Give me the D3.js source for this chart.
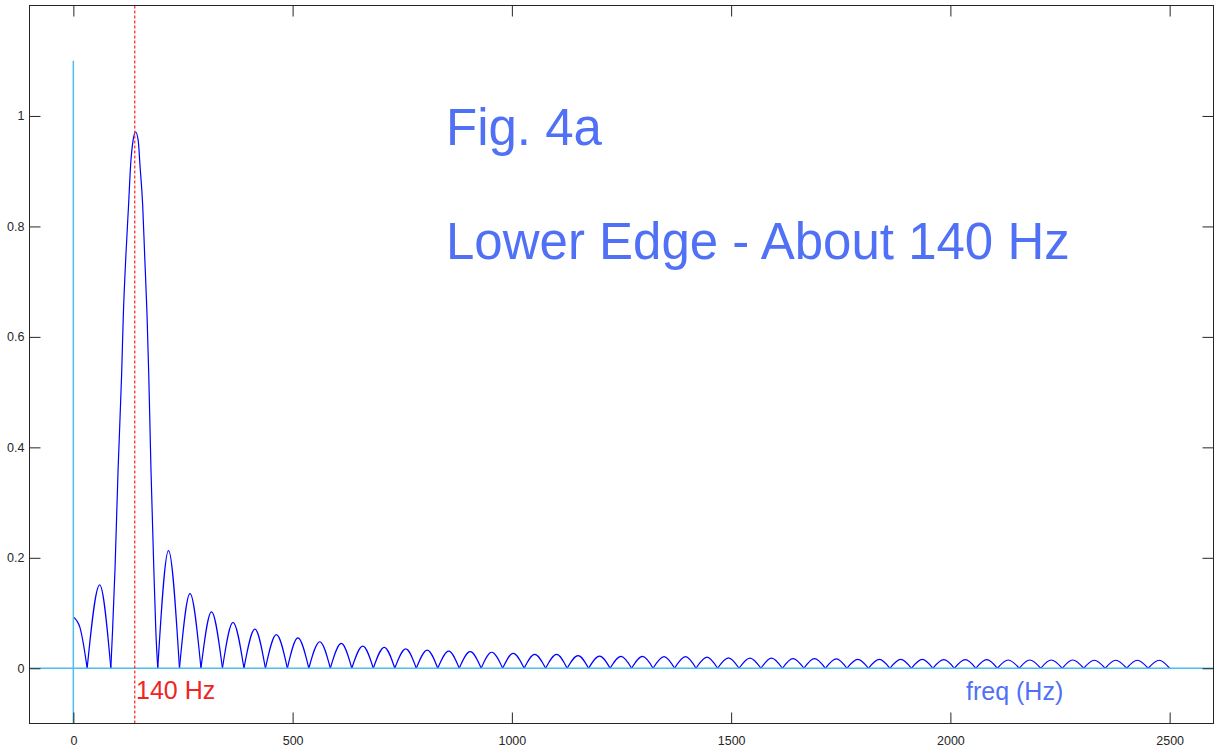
<!DOCTYPE html>
<html>
<head>
<meta charset="utf-8">
<script src="https://cdn.jsdelivr.net/npm/d3@7"></script>
<style>
body { margin: 0; background: #fff; }
svg text { font-family: "Liberation Sans", Arial, sans-serif; }
</style>
</head>
<body>
<div id="chart"></div>
<script>
// leading lobe, first small lobe and the main lobe (freq in Hz, magnitude)
var lowHz  = [0, 7, 15, 22.5, 31.5, 60, 85.5, 89.5, 95, 102, 110, 114, 120, 126, 130.5, 136, 142,
              148, 152, 158, 162.5, 168, 172, 177, 183.5, 188, 192.5];
var lowMag = [0.093, 0.087, 0.074, 0.046, 0, 0.151, 0, 0.07, 0.18, 0.36, 0.53, 0.64, 0.75, 0.84, 0.91, 0.955, 0.971,
              0.955, 0.91, 0.84, 0.75, 0.64, 0.53, 0.36, 0.18, 0.07, 0];

// side lobes above the main lobe: peak freq, peak height, freq where each lobe ends
var sidePeakHz = [217, 266, 315, 364, 414, 463, 512, 562, 611, 660,
                  709, 758, 807, 856, 905, 954, 1003, 1052, 1102, 1151,
                  1200, 1249, 1298, 1347, 1396, 1445, 1494, 1543, 1592, 1641,
                  1690, 1740, 1789, 1838, 1887, 1936, 1985, 2034, 2083, 2132,
                  2181, 2230, 2279, 2328, 2377, 2426, 2476];
var sidePeakMag = [0.213, 0.135, 0.102, 0.083, 0.071, 0.061, 0.055, 0.048, 0.045, 0.040,
                   0.038, 0.035, 0.033, 0.031, 0.030, 0.029, 0.027, 0.025, 0.025, 0.023,
                   0.022, 0.0215, 0.0215, 0.021, 0.021, 0.020, 0.019, 0.0185, 0.0185, 0.0175,
                   0.0175, 0.017, 0.016, 0.016, 0.016, 0.016, 0.0155, 0.0155, 0.0155, 0.015,
                   0.015, 0.015, 0.015, 0.0145, 0.0145, 0.0145, 0.0145];
var sideEndHz = [242, 291, 340, 389, 438, 488, 537, 586, 635, 684,
                 733, 782, 831, 880, 930, 979, 1028, 1077, 1126, 1175,
                 1224, 1273, 1322, 1371, 1420, 1469, 1518, 1568, 1617, 1666,
                 1715, 1764, 1813, 1862, 1911, 1960, 2009, 2058, 2107, 2157,
                 2206, 2255, 2304, 2353, 2402, 2451, 2500];

var xTicks = [0, 500, 1000, 1500, 2000, 2500];
var yTicks = [0, 0.2, 0.4, 0.6, 0.8, 1];
var markerHz = 140;

var W = 1215, H = 749;
var box = {left: 29.5, right: 1213.5, top: 5.5, bottom: 723.5};

var svg = d3.select("#chart").append("svg")
  .attr("width", W)
  .attr("height", H);

var x = d3.scaleLinear().domain([-100, 2600]).range([box.left, box.right]);
var y = d3.scaleLinear().domain([-0.1, 1.2]).range([box.bottom, box.top]);

// build the point list and cut it into lobes at the zeros
var pts = lowHz.map(function(f, i) { return {f: f, m: lowMag[i]}; });
sidePeakHz.forEach(function(f, i) {
  pts.push({f: f, m: sidePeakMag[i]});
  pts.push({f: sideEndHz[i], m: 0});
});

var lobes = [], cur = [];
pts.forEach(function(p) {
  cur.push(p);
  if (p.m === 0 && cur.length > 1) {
    lobes.push(cur);
    cur = [p];
  }
});
if (cur.length > 1) lobes.push(cur);

var line = d3.line()
  .x(function(d) { return x(d.f); })
  .y(function(d) { return y(d.m); })
  .curve(d3.curveMonotoneX);

svg.append("g").selectAll("path")
  .data(lobes)
  .enter().append("path")
  .attr("d", line)
  .attr("fill", "none")
  .attr("stroke", "#0000ff")
  .attr("stroke-width", 1.2);

// cyan zero lines
svg.append("line")
  .attr("x1", box.left).attr("x2", box.right)
  .attr("y1", y(0)).attr("y2", y(0))
  .attr("stroke", "#4dbeee").attr("stroke-width", 1.5);
svg.append("line")
  .attr("x1", x(0)).attr("x2", x(0))
  .attr("y1", y(-0.1)).attr("y2", y(1.1))
  .attr("stroke", "#4dbeee").attr("stroke-width", 1.5);

// red dotted marker
svg.append("line")
  .attr("x1", x(markerHz)).attr("x2", x(markerHz))
  .attr("y1", box.top).attr("y2", box.bottom)
  .attr("stroke", "#ff3030").attr("stroke-width", 1.3)
  .attr("stroke-dasharray", "3,2");

// axes, ticks inward and mirrored
var tl = 11;
var gx = svg.append("g")
  .attr("transform", "translate(0," + box.bottom + ")")
  .call(d3.axisBottom(x).tickValues(xTicks).tickSizeInner(-tl).tickSizeOuter(0).tickPadding(13)
    .tickFormat(d3.format("d")));
var gy = svg.append("g")
  .attr("transform", "translate(" + box.left + ",0)")
  .call(d3.axisLeft(y).tickValues(yTicks).tickSizeInner(-tl).tickSizeOuter(0).tickPadding(5)
    .tickFormat(d3.format("~g")));
var gt = svg.append("g")
  .attr("transform", "translate(0," + box.top + ")")
  .call(d3.axisTop(x).tickValues(xTicks).tickSizeInner(-tl).tickSizeOuter(0).tickFormat(""));
var gr = svg.append("g")
  .attr("transform", "translate(" + box.right + ",0)")
  .call(d3.axisRight(y).tickValues(yTicks).tickSizeInner(-tl).tickSizeOuter(0).tickFormat(""));

[gx, gy, gt, gr].forEach(function(g) {
  g.select(".domain").remove();
  g.selectAll("line").attr("stroke", "#262626");
  g.selectAll("text").attr("fill", "#262626").style("font-size", "12.5px");
});

svg.append("rect")
  .attr("x", box.left).attr("y", box.top)
  .attr("width", box.right - box.left).attr("height", box.bottom - box.top)
  .attr("fill", "none").attr("stroke", "#262626").attr("stroke-width", 1);

// annotations
svg.append("text")
  .attr("x", 446).attr("y", 145)
  .attr("fill", "#5070f5").style("font-size", "51px")
  .text("Fig. 4a");
svg.append("text")
  .attr("x", 446).attr("y", 259)
  .attr("fill", "#5070f5").style("font-size", "51px")
  .text("Lower Edge - About 140 Hz");
svg.append("text")
  .attr("x", 136).attr("y", 699)
  .attr("fill", "#ee2525").style("font-size", "25px")
  .text("140 Hz");
svg.append("text")
  .attr("x", 966).attr("y", 700)
  .attr("fill", "#5070f5").style("font-size", "25px")
  .text("freq (Hz)");
</script>
</body>
</html>
